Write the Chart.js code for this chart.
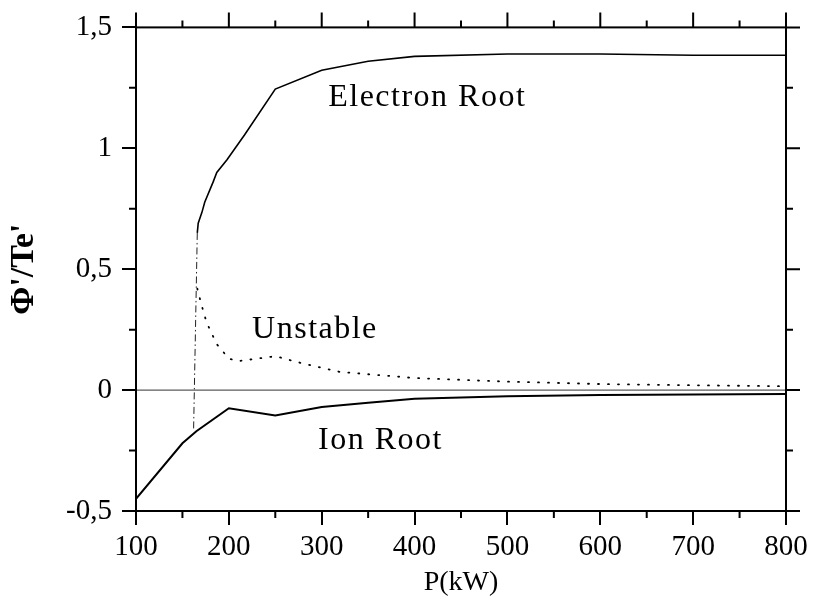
<!DOCTYPE html>
<html>
<head>
<meta charset="utf-8">
<script src="https://cdn.jsdelivr.net/npm/chart.js@4.4.1/dist/chart.umd.min.js"></script>
<style>
  body { margin: 0; background: #fff; }
  #wrap { width: 813px; height: 607px; }
</style>
</head>
<body>
<div id="wrap"><canvas id="myChart" width="813" height="607"></canvas></div>
<script>
// DATA
const xTicks = [100, 200, 300, 400, 500, 600, 700, 800];
const yTicks = [-0.5, 0, 0.5, 1, 1.5];

const electronP   = [166, 167, 171, 174, 183, 187, 198, 217, 250, 300, 350, 400, 500, 600, 700, 800];
const electronPhi = [0.65, 0.69, 0.735, 0.777, 0.86, 0.90, 0.953, 1.056, 1.245, 1.323, 1.36, 1.38, 1.39, 1.39, 1.385, 1.385];

const unstableP   = [166, 170, 176, 187, 200, 210, 250, 280, 320, 400, 500, 600, 700, 800];
const unstablePhi = [0.42, 0.36, 0.28, 0.19, 0.13, 0.12, 0.14, 0.11, 0.075, 0.05, 0.035, 0.025, 0.02, 0.016];

const ionP   = [100, 150, 165, 200, 250, 300, 350, 400, 500, 600, 700, 800];
const ionPhi = [-0.45, -0.22, -0.17, -0.075, -0.105, -0.07, -0.052, -0.036, -0.025, -0.02, -0.018, -0.016];

const jumpP   = [166, 162];
const jumpPhi = [0.65, -0.17];

const zeroP   = [100, 800];
const zeroPhi = [0, 0];

const notes = [
    { text: 'Electron Root', p: 307, phi: 1.175 },
    { text: 'Unstable', p: 225, phi: 0.214 },
    { text: 'Ion Root', p: 296, phi: -0.242 }
];

function pts(xs, ys) {
    return xs.map((x, i) => ({ x: x, y: ys[i] }));
}

const serif = 'Liberation Serif';

// FRAME, MINOR TICKS, MIRRORED TICKS AND CURVE LABELS
const framePlugin = {
    id: 'frame',
    afterDraw(chart) {
        const ctx = chart.ctx;
        const a = chart.chartArea;
        const xs = chart.scales.x;
        const ys = chart.scales.y;
        ctx.save();
        ctx.strokeStyle = '#000';
        ctx.lineWidth = 2;
        ctx.strokeRect(a.left, a.top, a.right - a.left, a.bottom - a.top);

        ctx.beginPath();
        for (let v = 100; v <= 800; v += 50) {
            const px = xs.getPixelForValue(v);
            const len = v % 100 === 0 ? 15 : 7;
            ctx.moveTo(px, a.top);
            ctx.lineTo(px, a.top - len);
            if (v % 100 !== 0) {
                ctx.moveTo(px, a.bottom);
                ctx.lineTo(px, a.bottom + len);
            }
        }
        for (let v = -0.5; v <= 1.5001; v += 0.25) {
            const py = ys.getPixelForValue(v);
            const major = Math.abs(v * 2 - Math.round(v * 2)) < 1e-6;
            const len = major ? 14 : 7;
            ctx.moveTo(a.right, py);
            ctx.lineTo(a.right + len, py);
            if (!major) {
                ctx.moveTo(a.left, py);
                ctx.lineTo(a.left - len, py);
            }
        }
        ctx.stroke();

        ctx.fillStyle = '#000';
        ctx.font = '32px "' + serif + '"';
        ctx.letterSpacing = '1.5px';
        ctx.textBaseline = 'alphabetic';
        ctx.textAlign = 'left';
        for (const n of notes) {
            ctx.fillText(n.text, xs.getPixelForValue(n.p), ys.getPixelForValue(n.phi));
        }
        ctx.restore();
    }
};

const ctx = document.getElementById('myChart').getContext('2d');
new Chart(ctx, {
    type: 'scatter',
    data: {
        datasets: [
            {
                label: 'zero',
                data: pts(zeroP, zeroPhi),
                showLine: true,
                borderColor: '#333',
                borderWidth: 1,
                pointRadius: 0
            },
            {
                label: 'Electron Root',
                data: pts(electronP, electronPhi),
                showLine: true,
                borderColor: '#000',
                borderWidth: 1.6,
                pointRadius: 0
            },
            {
                label: 'Unstable',
                data: pts(unstableP, unstablePhi),
                showLine: true,
                borderColor: '#000',
                borderWidth: 1.8,
                borderDash: [1, 9],
                borderCapStyle: 'round',
                pointRadius: 0
            },
            {
                label: 'jump',
                data: pts(jumpP, jumpPhi),
                showLine: true,
                borderColor: '#222',
                borderWidth: 1,
                borderDash: [7, 3, 1.5, 3],
                pointRadius: 0
            },
            {
                label: 'Ion Root',
                data: pts(ionP, ionPhi),
                showLine: true,
                borderColor: '#000',
                borderWidth: 2,
                pointRadius: 0
            }
        ]
    },
    options: {
        responsive: false,
        animation: false,
        layout: { padding: { top: 24, right: 27, left: 0, bottom: 0 } },
        plugins: {
            legend: { display: false },
            tooltip: { enabled: false }
        },
        scales: {
            x: {
                type: 'linear',
                min: 100,
                max: 800,
                afterFit: (s) => { s.height = 96; },
                afterBuildTicks: (s) => { s.ticks = xTicks.map(v => ({ value: v })); },
                grid: { drawOnChartArea: false, color: '#000', lineWidth: 2, tickLength: 14 },
                border: { display: false },
                ticks: {
                    color: '#000',
                    font: { family: serif, size: 29 },
                    padding: 5,
                    maxRotation: 0
                },
                title: {
                    display: true,
                    text: 'P(kW)',
                    color: '#000',
                    font: { family: serif, size: 28 },
                    padding: { top: 0, bottom: 8 }
                }
            },
            y: {
                min: -0.5,
                max: 1.5,
                afterFit: (s) => { s.width = 136; },
                afterBuildTicks: (s) => { s.ticks = yTicks.map(v => ({ value: v })); },
                grid: { drawOnChartArea: false, color: '#000', lineWidth: 2, tickLength: 14 },
                border: { display: false },
                ticks: {
                    color: '#000',
                    font: { family: serif, size: 29 },
                    padding: 10,
                    callback: (v) => String(v).replace('.', ',')
                },
                title: {
                    display: true,
                    text: "\u03A6'/Te'",
                    color: '#000',
                    font: { family: serif, size: 34, weight: 'bold' },
                    padding: { top: 4, bottom: 0 }
                }
            }
        }
    },
    plugins: [framePlugin]
});
</script>
</body>
</html>
